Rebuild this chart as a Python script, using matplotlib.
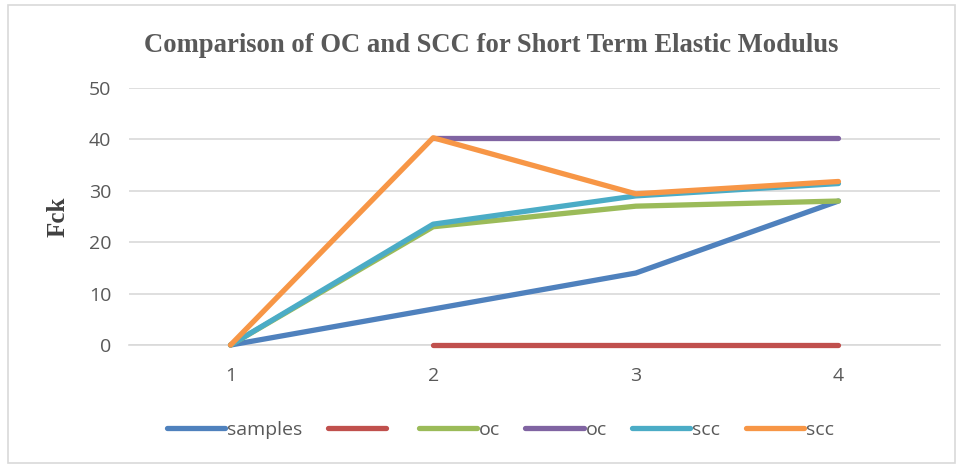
import matplotlib.pyplot as plt
from matplotlib.patches import Rectangle

# data
categories = [1, 2, 3, 4]
samples = [0, 7, 14, 28]
blank = [None, 0, 0, 0]
oc_a = [0, 23, 27, 28]
oc_b = [None, 40.3, 40.3, 40.3]
scc_a = [0, 23.5, 29, 31.4]
scc_b = [0, 40.3, 29.4, 31.8]

series = [
    ("samples", samples, "#4f81bd"),
    (" ", blank, "#c0504d"),
    ("oc", oc_a, "#9bbb59"),
    ("oc", oc_b, "#8064a2"),
    ("scc", scc_a, "#4bacc6"),
    ("scc", scc_b, "#f79646"),
]


def main():
    fig = plt.figure(figsize=(9.57, 4.65), dpi=100)
    ax = fig.add_axes([0.135, 0.258, 0.847, 0.553])

    for label, values, color in series:
        xs = [c for c, v in zip(categories, values) if v is not None]
        ys = [v for v in values if v is not None]
        ax.plot(xs, ys, color=color, lw=3.8, label=label, zorder=3, clip_on=False,
                solid_capstyle="round", solid_joinstyle="round")

    ax.set_xlim(0.5, 4.5)
    ax.set_ylim(0, 50)
    ax.set_xticks(categories)
    ax.set_yticks(range(0, 51, 10))
    ax.grid(axis="y", color="#d9d9d9", lw=1.2)
    ax.set_axisbelow(True)
    for side in ["top", "right", "left"]:
        ax.spines[side].set_visible(False)
    ax.spines["bottom"].set_color("#d9d9d9")
    ax.spines["bottom"].set_linewidth(1.2)
    ax.spines["bottom"].set_zorder(1)
    ax.tick_params(length=0, labelsize=14, colors="#595959")
    ax.tick_params(axis="y", pad=13)
    ax.tick_params(axis="x", pad=16)
    for t in ax.get_xticklabels() + ax.get_yticklabels():
        t.set_fontfamily("Open Sans")

    ax.set_ylabel("Fck", fontsize=18, fontweight="bold",
                  family="Liberation Serif", color="#404040", labelpad=14)
    fig.text(0.513, 0.902, "Comparison of OC and SCC for Short Term Elastic Modulus",
             ha="center", va="center", fontsize=19.2, fontweight="bold",
             family="Liberation Serif", color="#595959")

    fig.legend(loc="center", bbox_to_anchor=(0.523, 0.075), ncol=6, frameon=False,
               handlelength=3.0, handletextpad=0.1, columnspacing=1.3,
               prop={"family": "Open Sans", "size": 14}, labelcolor="#595959")

    fig.patches.append(Rectangle((0.008, 0.005), 0.99, 0.985, transform=fig.transFigure,
                                 fill=False, edgecolor="#d9d9d9", lw=1.2))

    fig.savefig("out.png", dpi=100)


if __name__ == "__main__":
    main()
